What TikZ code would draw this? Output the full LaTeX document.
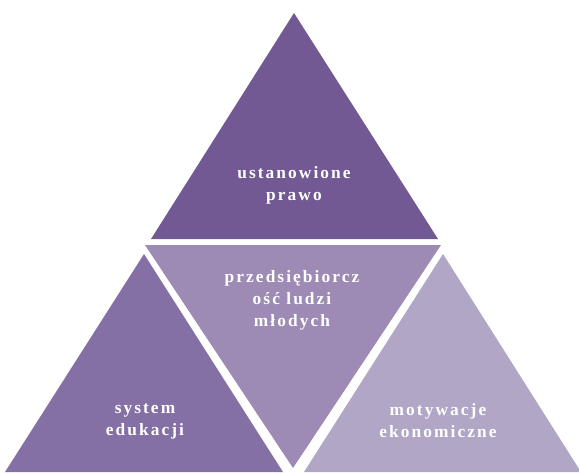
\documentclass[tikz,border=0pt]{standalone}
\usepackage{fontspec}
\setmainfont{Liberation Serif}
\definecolor{segTop}{RGB}{114,89,147}
\definecolor{segLeft}{RGB}{133,112,165}
\definecolor{segMid}{RGB}{157,139,181}
\definecolor{segRight}{RGB}{177,166,198}

\begin{document}
\begin{tikzpicture}[
    x=0.75pt, y=-0.75pt,
    lbl/.style={text=white, align=center, inner sep=0pt,
        font=\fontsize{13}{16.5}\selectfont\bfseries\addfontfeatures{LetterSpace=12}}
]
\useasboundingbox (0,0) rectangle (579,472);

% segments of the pyramid
\coordinate (topApex) at (294,13);
\coordinate (topL) at (151,239);
\coordinate (topR) at (438,239);
\coordinate (midL) at (145,245);
\coordinate (midR) at (441,245);
\coordinate (midB) at (293,468);
\coordinate (leftApex) at (144,254);
\coordinate (leftL) at (5,472);
\coordinate (leftR) at (283,472);
\coordinate (rightApex) at (443,254);
\coordinate (rightL) at (304,472);
\coordinate (rightR) at (581,472);

\fill[segTop] (topApex) -- (topL) -- (topR) -- cycle;
\fill[segMid] (midL) -- (midR) -- (midB) -- cycle;
\fill[segLeft] (leftApex) -- (leftL) -- (leftR) -- cycle;
\fill[segRight] (rightApex) -- (rightL) -- (rightR) -- cycle;

\node[lbl] (prawo) at (294,185) {ustanowione\\prawo};
\node[lbl] (przedsiebiorczosc) at (292,300) {przedsiębiorcz\\ość ludzi\\młodych};
\node[lbl] (edukacja) at (145,421) {system\\edukacji};
\node[lbl] (motywacje) at (438,421) {motywacje\\ekonomiczne};
\end{tikzpicture}
\end{document}
